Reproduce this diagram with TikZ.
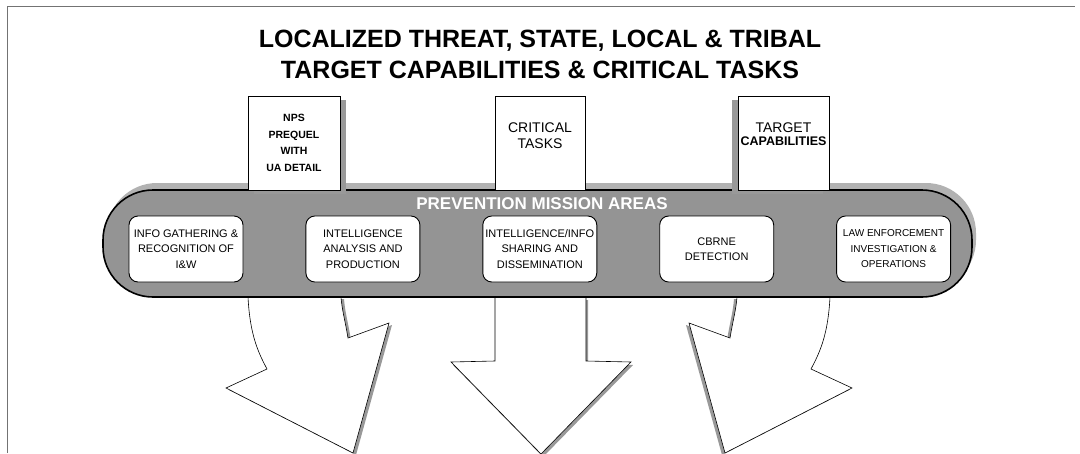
\documentclass[tikz,border=0pt]{standalone}
\usepackage{fontspec}
\setmainfont{Liberation Sans}
\usetikzlibrary{positioning,calc,shadows}
\tikzset{
  mission/.style={
    draw=black,
    line width=1.6pt,
    fill=black!42,
    rounded corners=50pt,
    drop shadow={shadow xshift=4pt,shadow yshift=7pt,fill=black!30,opacity=1}
  },
  taskbox/.style={
    draw,
    line width=0.9pt,
    rounded corners=9pt,
    fill=white,
    minimum width=114pt,
    minimum height=66pt,
    inner xsep=0pt,
    align=center,
    font=\fontsize{11}{15.5}\selectfont
  },
  tabbox/.style={
    draw,
    line width=0.6pt,
    fill=white,
    minimum width=92pt,
    minimum height=94pt,
    inner sep=0pt
  },
  blockarrow/.style={draw,line width=0.6pt,fill=white},
  leftshade/.style={drop shadow={shadow xshift=-3pt,shadow yshift=-2pt,fill=black!40,opacity=1}},
  rightshade/.style={drop shadow={shadow xshift=3pt,shadow yshift=-2pt,fill=black!40,opacity=1}},
  downshade/.style={drop shadow={shadow xshift=2pt,shadow yshift=-3pt,fill=black!40,opacity=1}}
}

\begin{document}
\begin{tikzpicture}[x=1pt,y=-1pt]
  \useasboundingbox (0,0) rectangle (1080,453);
  \draw[black!55,line width=0.8pt] (7,453) -- (7,6) -- (1075,6);

  \node[font=\fontsize{25}{31}\selectfont\bfseries,align=center] (title) at (540,54)
    {LOCALIZED THREAT, STATE, LOCAL \& TRIBAL\\TARGET CAPABILITIES \& CRITICAL TASKS};

  % block arrows under the band
  \draw[blockarrow,rightshade] (248,297) .. controls (250,335) and (258,352) .. (267,369)
    -- (226,388) -- (353,453) -- (389,323) -- (348,338)
    .. controls (345,320) and (342,310) .. (341,297) -- cycle;
  \draw[blockarrow,downshade] (495,297) -- (495,361) -- (451,362) -- (541,454)
    -- (631,362) -- (586,361) -- (586,297) -- cycle;
  \draw[blockarrow,leftshade] (830,297) .. controls (828,335) and (820,352) .. (811,369)
    -- (852,388) -- (725,453) -- (689,323) -- (730,338)
    .. controls (733,320) and (736,310) .. (737,297) -- cycle;

  % mission band
  \draw[mission] (103,190) rectangle (972,297);
  \node[font=\fontsize{17}{17}\selectfont\bfseries,text=white] (areas) at (542,204) {PREVENTION MISSION AREAS};

  \node[taskbox] (info) at (186,249) {INFO GATHERING \&\\RECOGNITION OF\\I\&W};
  \node[taskbox,right=62pt of info] (analysis) {INTELLIGENCE\\ANALYSIS AND\\PRODUCTION};
  \node[taskbox,right=62pt of analysis] (sharing) {INTELLIGENCE/INFO\\SHARING AND\\DISSEMINATION};
  \node[taskbox,right=62pt of sharing] (cbrne) {CBRNE\\DETECTION};
  \node[taskbox,right=62pt of cbrne,font=\fontsize{10}{15.5}\selectfont] (law) {LAW ENFORCEMENT\\INVESTIGATION \&\\OPERATIONS};

  % tabs on top of the band
  \node[tabbox,drop shadow={shadow xshift=6pt,shadow yshift=-4pt,fill=black!40,opacity=1}] (nps) at (294,143) {};
  \node[font=\fontsize{10.5}{16.5}\selectfont\bfseries,align=center] (npstext) at (nps.center) {NPS\\PREQUEL\\WITH\\UA DETAIL};
  \node[tabbox,minimum width=90pt] (crit) at (540,143) {};
  \node[font=\fontsize{14}{16}\selectfont,align=center] (crittext) at ($(crit.center)+(0,-7)$) {CRITICAL\\TASKS};
  \node[tabbox,minimum width=91pt,drop shadow={shadow xshift=-6pt,shadow yshift=-4pt,fill=black!40,opacity=1}] (target) at (783.5,143) {};
  \node[align=center] (targettext) at ($(target.center)+(0,-9)$)
    {\fontsize{14}{14}\selectfont TARGET\\[1pt]\fontsize{12.5}{12.5}\selectfont\bfseries CAPABILITIES};
\end{tikzpicture}
\end{document}
